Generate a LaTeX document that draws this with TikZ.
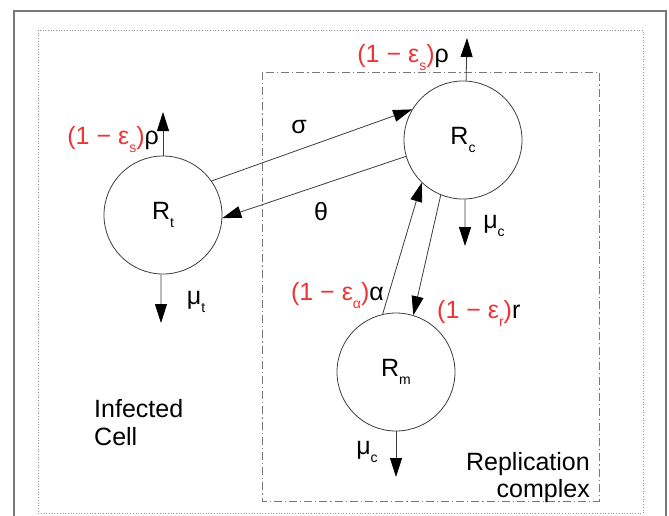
\documentclass[tikz,border=0pt]{standalone}
\usepackage{fontspec}
\setmainfont{Liberation Sans}
\usetikzlibrary{arrows.meta}
\definecolor{lblred}{RGB}{238,52,52}
\definecolor{framegray}{RGB}{120,120,120}
\definecolor{linegray}{RGB}{60,60,60}
\newcommand{\lowr}[1]{\raisebox{-0.34em}{\fontsize{14}{14}\selectfont #1}}
\begin{document}
\begin{tikzpicture}[x=1pt,y=-1pt,
  font=\fontsize{25}{30}\selectfont,
  comp/.style={draw=linegray, line width=0.8pt, circle, minimum size=118pt, inner sep=0pt},
  flow/.style={draw=linegray, line width=0.8pt, -{Triangle[length=19pt,width=12pt,black]}},
  lbl/.style={inner sep=0pt}
]
\useasboundingbox (0,0) rectangle (669,515);
% frames
\draw[framegray, line width=1.4pt] (14,11) rectangle (666,540);
\draw[framegray!80, line width=0.7pt, dotted] (38,30) rectangle (643,513);
\draw[framegray, line width=0.8pt, dash pattern=on 8pt off 3pt on 1.2pt off 3pt] (262,72) rectangle (599,501);

% compartments
\node[comp] (Rt) at (163,215) {R\lowr{t}};
\node[comp] (Rc) at (463,140) {R\lowr{c}};
\node[comp] (Rm) at (396,372) {R\lowr{m}};

% free ends
\coordinate (tUp) at (163,112);
\coordinate (tDn) at (161,323);
\coordinate (cUp) at (467,38);
\coordinate (cDn) at (465,246);
\coordinate (mDn) at (396,477);

% connectors
\draw[flow] (Rt.35) -- (Rc.149);
\draw[flow] (Rc.196) -- (Rt.357);
\draw[flow] (Rm.103) -- (Rc.226);
\draw[flow] (Rc.248) -- (Rm.73);
\draw[flow] (Rt.north) -- (tUp);
\draw[flow] (Rt.268) -- (tDn);
\draw[flow] (Rc.87) -- (cUp);
\draw[flow] (Rc.272) -- (cDn);
\draw[flow] (Rm.south) -- (mDn);

% labels
\node[lbl, anchor=base east] (ltUp) at (159,144) {\textcolor{lblred}{(1 − ε\lowr{s})}ρ};
\node[lbl, anchor=base east] (lcUp) at (449,62) {\textcolor{lblred}{(1 − ε\lowr{s})}ρ};
\node[lbl] (lsig) at (299,127) {σ};
\node[lbl] (lthe) at (321,212) {θ};
\node[lbl] (ltDn) at (196,302) {μ\lowr{t}};
\node[lbl] (lcDn) at (494,226) {μ\lowr{c}};
\node[lbl] (lmDn) at (367,452) {μ\lowr{c}};
\node[lbl, anchor=base east] (lalp) at (384,300) {\textcolor{lblred}{(1 − ε\lowr{α})}α};
\node[lbl, anchor=base west] (lr) at (437,318) {\textcolor{lblred}{(1 − ε\lowr{r})}r};
\node[lbl, anchor=base west] (inf1) at (94,417) {Infected};
\node[lbl, anchor=base west] (inf2) at (94,445) {Cell};
\node[lbl, anchor=base east] (rep1) at (590,470) {Replication};
\node[lbl, anchor=base east] (rep2) at (590,497) {complex};
\end{tikzpicture}
\end{document}
